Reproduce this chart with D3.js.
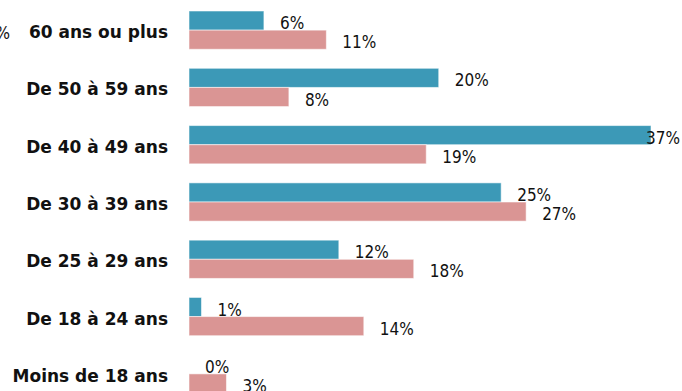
<!DOCTYPE html>
<html>
<head>
<meta charset="utf-8">
<script src="https://cdn.jsdelivr.net/npm/d3@7"></script>
<style>
  html, body { margin: 0; padding: 0; background: #fff; }
  svg { display: block; }
  .cat { font-family: "DejaVu Sans", sans-serif; font-weight: bold; font-size: 17px; fill: #111; }
  .val { font-family: "DejaVu Sans Condensed", "DejaVu Sans", sans-serif; font-stretch: condensed; font-size: 17px; fill: #111; }
</style>
</head>
<body>
<svg id="chart" width="682" height="391"></svg>
<script>
// Age groups, top to bottom
const categories = [
  "60 ans ou plus",
  "De 50 à 59 ans",
  "De 40 à 49 ans",
  "De 30 à 39 ans",
  "De 25 à 29 ans",
  "De 18 à 24 ans",
  "Moins de 18 ans"
];
// Share per age group (%) for the two series
const seriesA = [6, 20, 37, 25, 12, 1, 0];
const seriesB = [11, 8, 19, 27, 18, 14, 3];
const seriesNames = ["A", "B"];
const colors = ["#3c99b7", "#da9594"];

const W = 682, H = 391;
const svg = d3.select("#chart");

const y = d3.scaleBand()
  .domain(categories)
  .range([11, 393])
  .paddingInner(0.332)
  .paddingOuter(0);

const sub = d3.scaleBand()
  .domain(seriesNames)
  .range([0, y.bandwidth()]);

const x = d3.scaleLinear()
  .domain([0, 37])
  .range([189, 651]);

const rows = categories.map((c, i) => ({
  cat: c,
  vals: [
    { s: seriesNames[0], v: seriesA[i], color: colors[0] },
    { s: seriesNames[1], v: seriesB[i], color: colors[1] }
  ]
}));

// Category labels, right-aligned next to the bars
svg.append("g").selectAll("text")
  .data(categories)
  .join("text")
  .attr("class", "cat")
  .attr("x", 168)
  .attr("y", d => y(d) + y.bandwidth() / 2 + 8)
  .attr("text-anchor", "end")
  .text(d => d);

const groups = svg.append("g").selectAll("g")
  .data(rows)
  .join("g")
  .attr("transform", d => `translate(0,${y(d.cat)})`);

groups.selectAll("rect")
  .data(d => d.vals)
  .join("rect")
  .attr("x", x(0))
  .attr("y", d => sub(d.s))
  .attr("width", d => x(d.v) - x(0))
  .attr("height", sub.bandwidth())
  .attr("fill", d => d.color)
  .attr("stroke", "#ffffff")
  .attr("stroke-opacity", 0.55)
  .attr("stroke-width", 1);

// Value labels after each bar, kept inside the right edge
groups.selectAll("text")
  .data(d => d.vals)
  .join("text")
  .attr("class", "val")
  .attr("y", d => sub(d.s) + sub.bandwidth() - 1)
  .text(d => d.v + "%")
  .each(function (d) {
    const w = this.getComputedTextLength();
    const px = Math.min(x(d.v) + 16, W - 2 - w);
    d3.select(this).attr("x", px);
  });

// Partially visible label at the far left edge
svg.append("text")
  .attr("class", "val")
  .attr("x", 10)
  .attr("y", 39)
  .attr("text-anchor", "end")
  .text("%");
</script>
</body>
</html>
